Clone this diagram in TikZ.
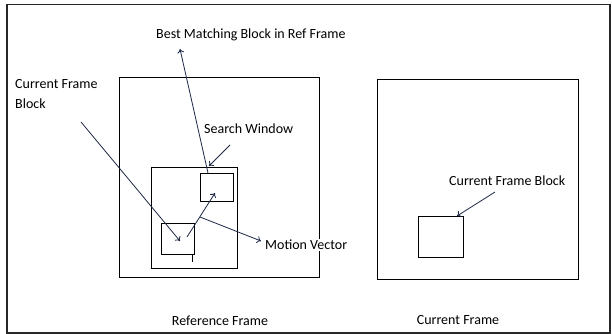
\documentclass[tikz,border=0pt]{standalone}
\usepackage{fontspec}
\setmainfont{Carlito}
\usetikzlibrary{arrows.meta}
\definecolor{arr}{RGB}{30,40,70}
\tikzset{
  box/.style={draw=black, line width=0.8pt, inner sep=0pt, anchor=north west},
  lbl/.style={font=\fontsize{14}{20}\selectfont, inner sep=1pt, text=black},
  conn/.style={draw=arr, line width=0.8pt, -{To[length=4pt,width=7pt]}},
}
\begin{document}
\begin{tikzpicture}[x=1pt,y=-1pt]
\useasboundingbox (0,0) rectangle (612,334);
\node[draw=black!85, line width=1.5pt, inner sep=0pt, anchor=north west, minimum width=603pt, minimum height=328pt] (outer) at (6,4) {};
% reference frame
\node[box, minimum width=200pt, minimum height=200pt] (ref) at (119,77) {};
\node[box, minimum width=86pt, minimum height=101pt] (win) at (151,167) {};
\node[box, minimum width=33pt, minimum height=31pt] (cb) at (161,223) {};
\node[box, minimum width=33pt, minimum height=28pt] (bm) at (200,173) {};
% current frame
\node[box, minimum width=201pt, minimum height=200pt] (cur) at (377,79) {};
\node[box, minimum width=45pt, minimum height=41pt] (cfb) at (418,216) {};
% tick below lower block
\coordinate (t1) at (192,254);
\coordinate (t2) at (192,262);
\draw[line width=0.8pt] (t1) -- (t2);
% labels
\node[lbl, anchor=west] (lbest) at (155,35) {Best Matching Block in Ref Frame};
\node[lbl, anchor=west, align=left] (lcfb) at (14,94) {Current Frame\\Block};
\node[lbl, anchor=west] (lsw) at (203,129) {Search Window};
\node[lbl, anchor=west, fill=white] (lmv) at (264,245) {Motion Vector};
\node[lbl, anchor=west] (lcfb2) at (448,181) {Current Frame Block};
\node[lbl] (lref) at (220,321) {Reference Frame};
\node[lbl] (lcur) at (458,320) {Current Frame};
% arrow coordinates
\coordinate (a1s) at (208,173); \coordinate (a1e) at (180,49);
\coordinate (a2s) at (230,145); \coordinate (a2e) at (209,166);
\coordinate (a3s) at (81,122);  \coordinate (a3e) at (180,241);
\coordinate (a4s) at (187,237); \coordinate (a4e) at (215,193);
\coordinate (a5s) at (200,217); \coordinate (a5e) at (261,241);
\coordinate (a6s) at (495,192); \coordinate (a6e) at (457,216);
\draw[conn] (a1s) -- (a1e);
\draw[conn] (a2s) -- (a2e);
\draw[conn] (a3s) -- (a3e);
\draw[conn] (a4s) -- (a4e);
\draw[conn] (a5s) -- (a5e);
\draw[conn] (a6s) -- (a6e);
\end{tikzpicture}
\end{document}
